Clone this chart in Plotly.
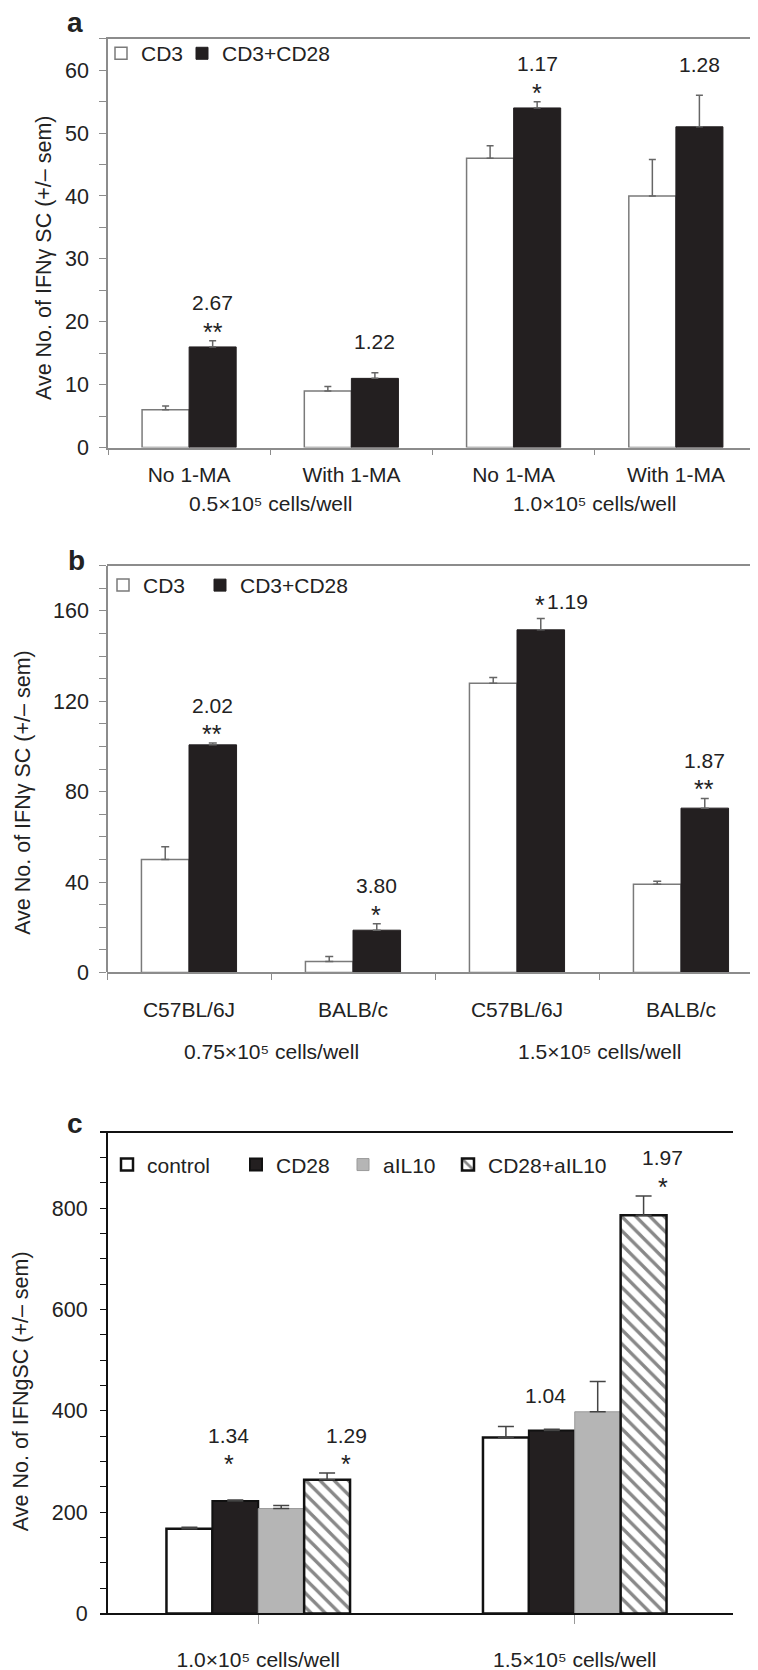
import plotly.graph_objects as go

W, H = 758, 1670
FONT = "Liberation Sans, Arial, Helvetica, sans-serif"
INK = "#231f20"
GREY = "#7a7a7a"
TXT = "#222"

# ---- panel a: 1-MA experiment ----
a_groups = ["0.5×10⁵ cells/well", "1.0×10⁵ cells/well"]
a_conditions = ["No 1-MA", "With 1-MA", "No 1-MA", "With 1-MA"]
a_cd3 = [6.0, 9.0, 46.0, 40.0]
a_cd3_err = [0.6, 0.7, 2.0, 5.8]
a_cd28 = [16.0, 11.0, 54.0, 51.0]
a_cd28_err = [1.0, 0.9, 1.0, 5.0]
a_fold = ["2.67", "1.22", "1.17", "1.28"]
a_stars = ["**", "", "*", ""]

# ---- panel b: mouse strains ----
b_groups = ["0.75×10⁵ cells/well", "1.5×10⁵ cells/well"]
b_strains = ["C57BL/6J", "BALB/c", "C57BL/6J", "BALB/c"]
b_cd3 = [50.0, 4.8, 128.0, 39.0]
b_cd3_err = [5.6, 2.2, 2.5, 1.3]
b_cd28 = [100.7, 18.7, 151.6, 72.7]
b_cd28_err = [0.8, 2.8, 5.0, 4.3]
b_fold = ["2.02", "3.80", "1.19", "1.87"]
b_stars = ["**", "*", "*", "**"]

# ---- panel c: anti-IL10 ----
c_groups = ["1.0×10⁵ cells/well", "1.5×10⁵ cells/well"]
c_series = ["control", "CD28", "aIL10", "CD28+aIL10"]
c_control = [167, 347]
c_control_err = [3, 22]
c_cd28 = [222, 361]
c_cd28_err = [2, 2.5]
c_ail10 = [207, 398]
c_ail10_err = [6, 60]
c_combo = [264, 786]
c_combo_err = [13, 38]
# (group, series, fold change, significance)
c_marks = [(0, 1, "1.34", "*"), (0, 3, "1.29", "*"), (1, 1, "1.04", ""), (1, 3, "1.97", "*")]


def px(x):
    return x / W


def py(y):
    return 1 - y / H


def bar_center(cat, series, n_series, gap):
    group = 1 - gap
    w = group / n_series
    return cat - group / 2 + w * (series + 0.5)


def err_bar(vals, color, width):
    return dict(type="data", array=vals, arrayminus=[0] * len(vals), symmetric=False,
                color=color, thickness=1.5, width=width)


def label(**kw):
    size = kw.pop("size", 21)
    return dict(showarrow=False, font=dict(size=size, family=FONT, color=TXT), **kw)


fig = go.Figure()

a_x = [f"a{i}" for i in range(len(a_conditions))]
b_x = [f"b{i}" for i in range(len(b_strains))]

fig.add_trace(go.Bar(x=a_x, y=a_cd3, name="CD3", legend="legend", legendwidth=36,
                     marker=dict(color="white", line=dict(color=GREY, width=1.5)),
                     error_y=err_bar(a_cd3_err, "#666", 3.5), xaxis="x", yaxis="y"))
fig.add_trace(go.Bar(x=a_x, y=a_cd28, name="CD3+CD28", legend="legend",
                     marker=dict(color=INK, line=dict(color=INK, width=1)),
                     error_y=err_bar(a_cd28_err, "#666", 3.5), xaxis="x", yaxis="y"))

fig.add_trace(go.Bar(x=b_x, y=b_cd3, name="CD3", legend="legend2", legendwidth=52,
                     marker=dict(color="white", line=dict(color=GREY, width=1.5)),
                     error_y=err_bar(b_cd3_err, "#666", 4), xaxis="x2", yaxis="y2"))
fig.add_trace(go.Bar(x=b_x, y=b_cd28, name="CD3+CD28", legend="legend2",
                     marker=dict(color=INK, line=dict(color=INK, width=1)),
                     error_y=err_bar(b_cd28_err, "#666", 4), xaxis="x2", yaxis="y2"))

c_styles = [
    dict(color="white", line=dict(color="#111", width=2.5)),
    dict(color=INK, line=dict(color="#111", width=2)),
    dict(color="#b5b5b5", line=dict(color="#9a9a9a", width=1)),
    dict(color="white", line=dict(color="#111", width=2.5),
         pattern=dict(shape="\\", fgcolor="#111", bgcolor="white", size=10, solidity=0.34)),
]
c_legend_w = [84, 62, 60, None]
c_vals = [c_control, c_cd28, c_ail10, c_combo]
c_errs = [c_control_err, c_cd28_err, c_ail10_err, c_combo_err]
for name, vals, errs, style, lw in zip(c_series, c_vals, c_errs, c_styles, c_legend_w):
    fig.add_trace(go.Bar(x=c_groups, y=vals, name=name, legend="legend3", legendwidth=lw,
                         marker=style, error_y=err_bar(errs, "#444", 8),
                         xaxis="x3", yaxis="y3"))

annotations = []
STAR = 25

# fold-change labels and stars over the CD3+CD28 bars
for panel, xref, yref, gap, vals, errs, folds, stars in [
    ("a", "x", "y", 0.42, a_cd28, a_cd28_err, a_fold, a_stars),
    ("b", "x2", "y2", 0.43, b_cd28, b_cd28_err, b_fold, b_stars),
]:
    for i, (v, e, f, s) in enumerate(zip(vals, errs, folds, stars)):
        xc = bar_center(i, 1, 2, gap)
        if panel == "b" and i == 2:
            annotations.append(label(x=xc, y=v + e, xref=xref, yref=yref, text=s,
                                     xanchor="center", yanchor="middle", yshift=14, size=STAR))
            annotations.append(label(x=xc, y=v + e, xref=xref, yref=yref, text=f,
                                     xanchor="left", yanchor="middle", xshift=5, yshift=17))
            continue
        if s:
            annotations.append(label(x=xc, y=v + e, xref=xref, yref=yref, text=s,
                                     yanchor="middle", yshift=9, size=STAR))
        annotations.append(label(x=xc, y=v + e, xref=xref, yref=yref, text=f,
                                 yanchor="middle", yshift=38 if s else 31))

for g, s_idx, f, s in c_marks:
    xc = bar_center(g, s_idx, 4, 0.26)
    if g == 0:
        # group 1 labels share one level above the tallest bar
        top = max(c_vals[k][g] + c_errs[k][g] for k in range(4))
    else:
        top = c_vals[s_idx][g] + c_errs[s_idx][g]
    if s:
        annotations.append(label(x=xc, y=top, xref="x3", yref="y3", text=s,
                                 yanchor="middle", yshift=9, size=STAR))
    annotations.append(label(x=xc, y=top, xref="x3", yref="y3", text=f,
                             yanchor="middle", yshift=38 if s else 34))

# group labels below panels a and b
for xref, groups, ylab in [("x", a_groups, 499), ("x2", b_groups, 1052)]:
    for k, g in enumerate(groups):
        annotations.append(label(x=2 * k + 0.5, y=py(ylab), xref=xref, yref="paper", text=g,
                                 yanchor="middle"))

# panel letters
for letter, x, y in [("a", 67, 15), ("b", 68, 557), ("c", 67, 1124)]:
    annotations.append(label(x=px(x), y=py(y), xref="paper", yref="paper",
                             text=f"<b>{letter}</b>", size=28,
                             xanchor="center", yanchor="middle"))

# y-axis titles
for txt, x, y in [("Ave No. of IFNγ SC (+/– sem)", 36, 252),
                  ("Ave No. of IFNγ SC (+/– sem)", 15, 791),
                  ("Ave No. of IFNgSC (+/– sem)", 13, 1394)]:
    annotations.append(label(x=px(x), y=py(y), xref="paper", yref="paper", text=txt,
                             textangle=-90, size=21.5, xanchor="center", yanchor="middle"))


def yax(top, bottom, rng, dtick, minor, color, lw, tlen, standoff):
    return dict(domain=[1 - bottom / H, 1 - top / H], range=rng, dtick=dtick,
                showgrid=False, zeroline=False, showline=True, linecolor=color, linewidth=lw,
                mirror=True, ticks="outside", ticklen=tlen, tickcolor=color,
                minor=dict(dtick=minor, ticks="outside", ticklen=tlen, tickcolor=color),
                ticklabelstandoff=standoff, tickfont=dict(size=21.5, color=TXT, family=FONT))


def xax(left, right, anchor, color, lw, **kw):
    d = dict(domain=[left / W, right / W], anchor=anchor, type="category",
             showgrid=False, zeroline=False, showline=True, linecolor=color, linewidth=lw,
             mirror=True, ticks="outside", tickcolor=color,
             tickfont=dict(size=21, color=TXT, family=FONT))
    d.update(kw)
    return d


legend_common = dict(orientation="h", xanchor="left", yanchor="middle",
                     bgcolor="rgba(0,0,0,0)", traceorder="normal",
                     font=dict(size=21, color=TXT, family=FONT))

fig.update_layout(
    width=W, height=H,
    margin=dict(l=0, r=0, t=0, b=0),
    paper_bgcolor="white", plot_bgcolor="white",
    font=dict(family=FONT, size=21, color=TXT),
    barmode="group", bargroupgap=0, bargap=0.42,
    showlegend=True,
    xaxis=xax(100, 749, "y", "#8c8c8c", 1.5, range=[-0.5, 3.5], tickson="boundaries",
              ticklen=6, tickvals=a_x, ticktext=a_conditions, ticklabelstandoff=7),
    yaxis=yax(31, 443, [0, 65], 10, 5, "#8c8c8c", 1.5, 7, 6),
    xaxis2=xax(99, 755, "y2", "#8c8c8c", 1.5, range=[-0.5, 3.5], tickson="boundaries",
               ticklen=6, tickvals=b_x, ticktext=b_strains, ticklabelstandoff=18),
    yaxis2=yax(562, 972, [0, 180], 40, 10, "#8c8c8c", 1.5, 7, 6),
    xaxis3=xax(92, 725, "y3", "#111", 2, range=[-0.5, 1.5], ticklen=9,
               ticklabelstandoff=17),
    yaxis3=yax(1134, 1618, [0, 948], 200, 50, "#111", 2, 6, 8),
    legend=dict(x=px(93), y=py(46), **legend_common),
    legend2=dict(x=px(95), y=py(582), **legend_common),
    legend3=dict(x=px(99), y=py(1166), **legend_common),
    annotations=annotations,
)
fig.update_xaxes(tickcolor="#999", selector=dict(anchor="y3"))

fig.write_html("out.html")
